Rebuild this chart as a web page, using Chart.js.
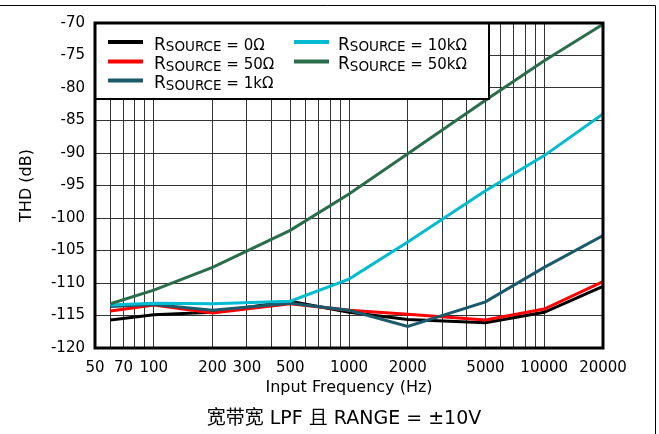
<!DOCTYPE html>
<html>
<head>
<meta charset="utf-8">
<script src="https://cdn.jsdelivr.net/npm/chart.js@4.4.1/dist/chart.umd.min.js"></script>
<style>
  html, body { margin: 0; padding: 0; background: #fff; }
  #wrap { width: 659px; height: 434px; position: relative; }
</style>
</head>
<body>
<div id="wrap"><canvas id="ctx"></canvas></div>
<script>
// frequencies (Hz) and THD readings (dB) for each source resistance
const freqs  = [60, 100, 200, 500, 1000, 2000, 5000, 10000, 20000];
const thd0   = [-115.7, -114.9, -114.5, -112.8, -114.5, -115.6, -116.1, -114.5, -110.5];
const thd50  = [-114.3, -113.4, -114.6, -113.2, -114.2, -114.8, -115.7, -114.0, -109.8];
const thd1k  = [-113.6, -113.3, -114.2, -113.1, -114.2, -116.7, -112.9, -107.6, -102.7];
const thd10k = [-113.4, -113.1, -113.2, -112.8, -109.4, -103.7, -95.8, -90.4, -84.0];
const thd50k = [-113.2, -111.1, -107.6, -101.9, -96.3, -90.1, -81.9, -75.8, -70.2];

const seriesNames  = ["0Ω", "50Ω", "1kΩ", "10kΩ", "50kΩ"];
const seriesColors = ["#000000", "#ff0000", "#1b5a6b", "#00bcd0", "#2a6d4b"];

const gridFreqs = [50, 60, 70, 80, 90, 100, 200, 300, 400, 500, 600, 700, 800, 900,
                   1000, 2000, 3000, 4000, 5000, 6000, 7000, 8000, 9000, 10000, 20000];
const freqLabels = [50, 70, 100, 200, 300, 500, 1000, 2000, 5000, 10000, 20000];
const yMin = -120, yMax = -70, yStep = 5;

const caption = "宽带宽 LPF 且 RANGE = ±10V";
const FONT = '"DejaVu Sans", sans-serif';

const allSeries = [thd0, thd50, thd1k, thd10k, thd50k];

function makeSet(vals, i) {
    return {
        label: "RSOURCE = " + seriesNames[i],
        data: freqs.map((f, k) => ({ x: f, y: vals[k] })),
        borderColor: seriesColors[i],
        backgroundColor: seriesColors[i],
        borderWidth: 3,
        pointRadius: 0,
        tension: 0,
        order: 5 - i,   // later series drawn on top
    };
}

function drawSeriesLabel(c, x, y, name) {
    c.textAlign = "left";
    c.textBaseline = "alphabetic";
    c.font = "17px " + FONT;
    c.fillText("R", x, y);
    let w = c.measureText("R").width;
    c.font = "13.5px " + FONT;
    c.fillText("SOURCE", x + w, y + 1.5);
    w += c.measureText("SOURCE").width;
    c.font = "15px " + FONT;
    c.fillText(" = " + name, x + w, y);
}

const decor = {
    id: "decor",
    afterDraw(chart) {
        const c = chart.ctx;
        const a = chart.chartArea;
        c.save();

        // legend box inside the plot
        const lx = a.left, ly = a.top, lw = 394, lh = 76;
        c.fillStyle = "#fff";
        c.fillRect(lx, ly, lw, lh);
        c.strokeStyle = "#000";
        c.lineWidth = 2;
        c.strokeRect(lx, ly, lw, lh);

        const cols = [{ lineX: 108, textX: 154 }, { lineX: 294, textX: 338 }];
        const rows = [42, 61.5, 80.5];
        seriesNames.forEach((name, i) => {
            const col = cols[i < 3 ? 0 : 1];
            const ry = rows[i < 3 ? i : i - 3];
            c.strokeStyle = seriesColors[i];
            c.lineWidth = 4;
            c.beginPath();
            c.moveTo(col.lineX, ry);
            c.lineTo(col.lineX + 35, ry);
            c.stroke();
            c.fillStyle = "#000";
            drawSeriesLabel(c, col.textX, ry + 7.5, name);
        });

        // heavy plot border
        c.strokeStyle = "#000";
        c.lineWidth = 3;
        c.strokeRect(a.left, a.top, a.right - a.left, a.bottom - a.top);

        // outer frame (top and right)
        c.lineWidth = 1;
        c.beginPath();
        c.moveTo(0, 5.5);
        c.lineTo(655.5, 5.5);
        c.lineTo(655.5, 434);
        c.stroke();

        // caption
        c.fillStyle = "#000";
        c.font = '19px "DejaVu Sans", "Noto Sans CJK SC", sans-serif';
        c.textAlign = "center";
        c.textBaseline = "middle";
        c.fillText(caption, 344, 419);
        c.restore();
    }
};

const chart = new Chart(document.getElementById("ctx"), {
    type: "line",
    data: { datasets: allSeries.map(makeSet) },
    options: {
        responsive: true,
        maintainAspectRatio: false,
        animation: false,
        layout: { padding: { left: 0, right: 56, top: 23, bottom: 0 } },
        plugins: {
            legend: { display: false },
            tooltip: { enabled: false },
        },
        scales: {
            x: {
                type: "logarithmic",
                min: 50,
                max: 20000,
                afterBuildTicks: (s) => { s.ticks = gridFreqs.map(v => ({ value: v })); },
                afterFit: (s) => { s.height = 86; },
                grid: { color: "#333", lineWidth: 1, drawTicks: false },
                border: { display: false },
                ticks: {
                    autoSkip: false,
                    maxRotation: 0,
                    padding: 11,
                    color: "#000",
                    font: { family: FONT, size: 15 },
                    callback: (v) => freqLabels.includes(v) ? String(v) : "",
                },
                title: {
                    display: true,
                    text: "Input Frequency (Hz)",
                    color: "#000",
                    font: { family: FONT, size: 16 },
                    padding: { top: 0, bottom: 37 },
                },
            },
            y: {
                min: yMin,
                max: yMax,
                afterFit: (s) => { s.width = 95; },
                grid: { color: "#333", lineWidth: 1, drawTicks: false },
                border: { display: false },
                ticks: {
                    stepSize: yStep,
                    padding: 10,
                    color: "#000",
                    font: { family: FONT, size: 15 },
                },
                title: {
                    display: true,
                    text: "THD (dB)",
                    color: "#000",
                    font: { family: FONT, size: 16 },
                    padding: { top: 17, bottom: 0 },
                },
            },
        },
    },
    plugins: [decor],
});
</script>
</body>
</html>
